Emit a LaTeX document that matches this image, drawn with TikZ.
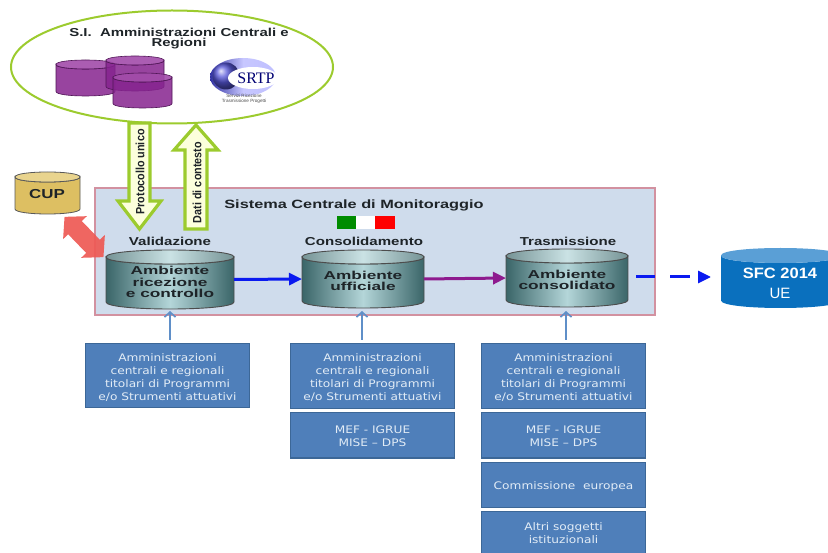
\documentclass[tikz,border=0pt]{standalone}
\usepackage{fontspec}
\setmainfont{Liberation Sans}
\newfontfamily\dejafont{DejaVu Sans}
\newfontfamily\seriffont{Liberation Serif}
\usetikzlibrary{arrows.meta,shapes.geometric}
\definecolor{limegr}{HTML}{9CCB2E}
\definecolor{paleyel}{HTML}{FCFFDC}
\definecolor{panel}{HTML}{CFDCEC}
\definecolor{panelb}{HTML}{D291A0}
\definecolor{boxblue}{HTML}{4F7FBA}
\definecolor{boxedge}{HTML}{3C6797}
\definecolor{boxtext}{HTML}{E2ECF6}
\definecolor{smallarrow}{HTML}{5F8FC8}
\definecolor{tealdark}{HTML}{3A6568}
\definecolor{teallight}{HTML}{B4D6D9}
\definecolor{purpdark}{HTML}{86248F}
\definecolor{purptop}{HTML}{A24CAA}
\definecolor{cupbody}{HTML}{DDBF62}
\definecolor{cuptop}{HTML}{E9D48E}
\definecolor{sfcbody}{HTML}{0A70BE}
\definecolor{sfctop}{HTML}{5A9FD6}
\definecolor{redarrow}{HTML}{EE5A55}
\definecolor{inktext}{HTML}{1E2428}
\definecolor{flowblue}{HTML}{0A1AF0}
\definecolor{flowpurple}{HTML}{8E1A8E}
\newcommand{\cylshape}[8]{% name, x1, y1, x2, y2, ry, body style, top style
  \pgfmathsetmacro{\cxa}{#2}\pgfmathsetmacro{\cxb}{#4}
  \pgfmathsetmacro{\cyt}{#3+#6}\pgfmathsetmacro{\cyb}{#5-#6}
  \pgfmathsetmacro{\cyc}{#5+#6/3}\pgfmathsetmacro{\cyd}{#3+2.333*#6}
  \pgfmathsetmacro{\cye}{#3-#6/3}
  \pgfmathsetmacro{\cmx}{(#2+#4)/2}\pgfmathsetmacro{\cmy}{(#3+#5)/2}
  \path[#7] (\cxa,\cyt) -- (\cxa,\cyb) .. controls (\cxa,\cyc) and (\cxb,\cyc) .. (\cxb,\cyb) -- (\cxb,\cyt) .. controls (\cxb,\cyd) and (\cxa,\cyd) .. (\cxa,\cyt) -- cycle;
  \path[#8] (\cxa,\cyt) .. controls (\cxa,\cye) and (\cxb,\cye) .. (\cxb,\cyt) .. controls (\cxb,\cyd) and (\cxa,\cyd) .. (\cxa,\cyt) -- cycle;
  \node[minimum width=#4pt-#2pt,minimum height=#5pt-#3pt,inner sep=0pt,outer sep=0pt] (#1) at (\cmx,\cmy) {};
}
\newcommand{\wide}[2][1.12]{\scalebox{#1}[1]{#2}}
\newcommand{\boxlines}[2][-2pt]{\raisebox{#1}[\height][\depth]{\scalebox{1.17}[1]{\begin{tabular}{@{}c@{}}#2\end{tabular}}}}
\tikzset{
  x=1pt,y=-1pt,
  bodyteal/.style={draw=black!70,line width=.9pt,left color=tealdark,right color=tealdark,middle color=teallight},
  topteal/.style={draw=black!70,line width=.9pt,left color=tealdark!70,right color=tealdark!70,middle color=teallight!70!white},
  bodypurp/.style={draw=purpdark!60!black,line width=.6pt,fill=purpdark,fill opacity=.85},
  toppurp/.style={draw=purpdark!60!black,line width=.6pt,fill=purptop,fill opacity=.9},
  fatarrow/.style={draw=limegr,line width=3.2pt,fill=paleyel,line join=miter},
  arrowlabel/.style={rotate=90,font=\bfseries\fontsize{12}{12}\selectfont,text=inktext,inner sep=0pt},
  stagelabel/.style={font=\bfseries\fontsize{11.5}{12}\selectfont,text=inktext,inner sep=0pt},
  envlabel/.style={font=\bfseries\fontsize{11.5}{11.3}\selectfont,text=inktext,inner sep=0pt,align=center},
  bluebox/.style={draw=boxedge,line width=1pt,fill=boxblue,minimum width=164pt,inner sep=0pt,outer sep=0pt,align=center,text=boxtext,font=\dejafont\fontsize{10.4}{13}\selectfont},
  up/.style={draw=smallarrow,line width=2pt,-{Straight Barb[length=5pt,width=11pt,line width=1.6pt]}},
  thickflow/.style={line width=3pt,-{Triangle[length=13pt,width=12pt]}},
}
\begin{document}
\begin{tikzpicture}
\useasboundingbox (0,0) rectangle (828,553);
% top ellipse
\node[draw=limegr,line width=2pt,fill=white,ellipse,minimum width=322pt,minimum height=113pt,inner sep=0pt,outer sep=0pt] (si) at (172,67) {};
\node[font=\bfseries\fontsize{11.5}{10}\selectfont,text=inktext,align=center,inner sep=0pt] (sititle) at (179,39) {\wide[1.3]{S.I.\ \ Amministrazioni Centrali e}\\\wide[1.3]{Regioni}};
% purple cylinders
\cylshape{pa}{56}{60}{115}{96}{4.5}{bodypurp}{toppurp}
\cylshape{pb}{106}{56}{164}{91}{4.5}{bodypurp}{toppurp}
\cylshape{pc}{113}{73}{172}{108}{4.5}{bodypurp}{toppurp}
% SRTP logo
\node[ellipse,minimum width=66pt,minimum height=38pt,inner sep=0pt,left color=blue!55!black!80,right color=blue!25,middle color=blue!22] (logo) at (243,77) {};
\node[circle,minimum size=27pt,inner sep=0pt,ball color=blue!60!white!85!black,draw=none] (logoball) at (226,76) {};
\node[ellipse,minimum width=50pt,minimum height=22pt,inner sep=0pt,fill=white] (logohole) at (253,78) {};
\node[font=\seriffont\fontsize{16}{16}\selectfont,text=blue!45!black,inner sep=0pt] (logotext) at (256,78) {SRTP};
\node[font=\fontsize{4.6}{5.6}\selectfont,text=black!70,align=center,inner sep=0pt] (logosub) at (244,99) {Servizi Ricezione\\Trasmissione Progetti};
% CUP
\cylshape{cup}{15}{172}{80}{214}{5}{draw=black!65,line width=.8pt,fill=cupbody}{draw=black!65,line width=.8pt,fill=cuptop}
\node[font=\bfseries\fontsize{13}{13}\selectfont,text=inktext,inner sep=0pt] (cuplabel) at (47,194) {\wide[1.3]{CUP}};
% panel
\node[draw=panelb,line width=1.2pt,fill=panel,minimum width=560pt,minimum height=127pt,inner sep=0pt,outer sep=0pt] (panel) at (375,251.5) {};
\node[font=\bfseries\fontsize{12}{12}\selectfont,text=inktext,inner sep=0pt] (paneltitle) at (354,205) {\wide[1.36]{Sistema Centrale di Monitoraggio}};
% flag
\node[fill=green!55!black,minimum width=19pt,minimum height=13pt,inner sep=0pt,outer sep=0pt] (flagg) at (346.5,223) {};
\node[fill=white,minimum width=19pt,minimum height=13pt,inner sep=0pt,outer sep=0pt] (flagw) at (365.5,223) {};
\node[fill=red,minimum width=20pt,minimum height=13pt,inner sep=0pt,outer sep=0pt] (flagr) at (385,223) {};
% big arrows
\path[fatarrow] (129,123) -- (150,123) -- (150,201) -- (161,201) -- (139.5,229) -- (118,201) -- (129,201) -- cycle;
\node[arrowlabel] (protocollo) at (140,172) {\scalebox{.9}[1]{Protocollo unico}};
\path[fatarrow] (196,125) -- (218,150) -- (207,150) -- (207,229) -- (185,229) -- (185,150) -- (174,150) -- cycle;
\node[arrowlabel] (dati) at (197,182.5) {\scalebox{.9}[1]{Dati di contesto}};
% stage labels
\node[stagelabel] (val) at (170,241) {\wide[1.31]{Validazione}};
\node[stagelabel] (cons) at (364,241) {\wide[1.31]{Consolidamento}};
\node[stagelabel] (tras) at (568,241) {\wide[1.31]{Trasmissione}};
% environment cylinders
\cylshape{env1}{106}{250}{234}{309}{7}{bodyteal}{topteal}
\node[envlabel] (env1t) at (170,282) {\wide[1.5]{Ambiente}\\\wide[1.5]{ricezione}\\\wide[1.5]{e controllo}};
\cylshape{env2}{302}{250}{424}{308}{7}{bodyteal}{topteal}
\node[envlabel] (env2t) at (363,281) {\wide[1.5]{Ambiente}\\\wide[1.5]{ufficiale}};
\cylshape{env3}{506}{249}{628}{307}{7}{bodyteal}{topteal}
\node[envlabel] (env3t) at (567,280) {\wide[1.5]{Ambiente}\\\wide[1.5]{consolidato}};
% SFC
\cylshape{sfc}{721}{248}{840}{308}{7.5}{fill=sfcbody}{fill=sfctop}
\node[font=\bfseries\fontsize{15}{20}\selectfont,text=white,align=center,inner sep=0pt] (sfct) at (780,283) {\wide[1.1]{SFC 2014}\\{\mdseries UE}};
% flows
\draw[thickflow,draw=flowblue] (env1.east) -- (env2.west);
\draw[thickflow,draw=flowpurple] (env2.east) -- (env3.west);
\coordinate (dstart) at (636,277);
\coordinate (dend) at (711,277);
\draw[line width=3pt,draw=flowblue,dash pattern=on 19pt off 15pt on 20pt off 20pt,-{Triangle[length=13pt,width=12pt]}] (dstart) -- (dend);
% red double arrow
\begin{scope}[shift={(84,237)},rotate=-46]
\fill[redarrow,fill opacity=.93] (-28,0) -- (-13,16.5) -- (-13,9.5) -- (13,9.5) -- (13,16.5) -- (28,0) -- (13,-16.5) -- (13,-9.5) -- (-13,-9.5) -- (-13,-16.5) -- cycle;
\end{scope}
% boxes
\node[bluebox,minimum height=64pt] (a1) at (167.5,376) {\boxlines{Amministrazioni\\centrali e regionali\\titolari di Programmi\\e/o Strumenti attuativi}};
\node[bluebox,minimum height=65pt] (a2) at (372.5,376.5) {\boxlines{Amministrazioni\\centrali e regionali\\titolari di Programmi\\e/o Strumenti attuativi}};
\node[bluebox,minimum height=45pt] (m2) at (372.5,435.5) {\boxlines{MEF - IGRUE\\MISE – DPS}};
\node[bluebox,minimum height=65pt] (a3) at (563.5,376.5) {\boxlines{Amministrazioni\\centrali e regionali\\titolari di Programmi\\e/o Strumenti attuativi}};
\node[bluebox,minimum height=45pt] (m3) at (563.5,435.5) {\boxlines{MEF - IGRUE\\MISE – DPS}};
\node[bluebox,minimum height=45pt] (c3) at (563.5,484.5) {\boxlines{Commissione\ \ europea}};
\node[bluebox,minimum height=48pt] (s3) at (563.5,535) {\boxlines[.5pt]{Altri soggetti\\istituzionali}};
% small arrows
\coordinate (u1) at (170,311);\coordinate (u2) at (362,311);\coordinate (u3) at (566,311);
\coordinate (b1) at (170,340);\coordinate (b2) at (362,340);\coordinate (b3) at (566,340);
\draw[up] (b1) -- (u1);
\draw[up] (b2) -- (u2);
\draw[up] (b3) -- (u3);
\end{tikzpicture}
\end{document}
